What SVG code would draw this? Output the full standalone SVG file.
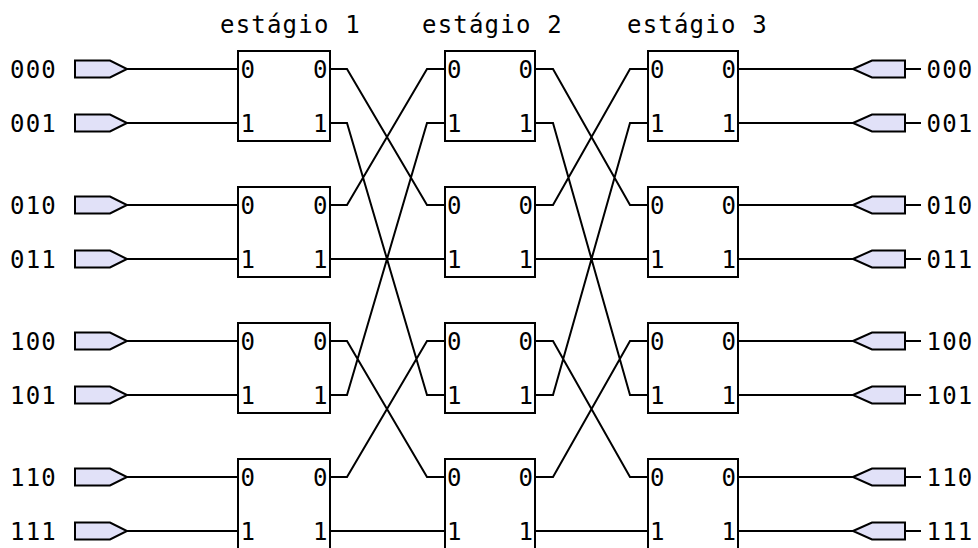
<svg xmlns="http://www.w3.org/2000/svg" width="978" height="548" viewBox="0 0 978 548">
<style>
text{font-family:"DejaVu Sans Mono","Liberation Mono",monospace;font-size:24px;fill:#000}
.ls{letter-spacing:1.2px}
.box{fill:#fff;stroke:#000;stroke-width:2}
.w{fill:none;stroke:#000;stroke-width:2;stroke-linejoin:miter}
.pin{fill:#e1e1f8;stroke:#000;stroke-width:2;stroke-linejoin:miter}
.e{text-anchor:end}
</style>
<rect width="978" height="548" fill="#fff"/>
<g id="titles">
<text class="ls" x="220" y="33">estágio 1</text>
<text class="ls" x="422" y="33">estágio 2</text>
<text class="ls" x="627" y="33">estágio 3</text>
</g>
<g id="connectors">
<path class="w" d="M127,69H238M127,123H238M127,205H238M127,259H238M127,341H238M127,395H238M127,477H238M127,531H238"/>
<path class="w" d="M330,69H347L427,205H445M330,123H347L427,395H445M330,205H347L427,69H445M330,259H445M330,341H347L427,477H445M330,395H347L427,123H445M330,477H347L427,341H445M330,531H445"/>
<path class="w" d="M535,69H553L630,205H648M535,123H553L630,395H648M535,205H553L630,69H648M535,259H648M535,341H553L630,477H648M535,395H553L630,123H648M535,477H553L630,341H648M535,531H648"/>
<path class="w" d="M738,69H853M738,123H853M738,205H853M738,259H853M738,341H853M738,395H853M738,477H853M738,531H853"/>
<path class="w" d="M905,69H921M905,123H921M905,205H921M905,259H921M905,341H921M905,395H921M905,477H921M905,531H921"/>
</g>
<g id="inputs">
<g id="in000"><text class="ls" x="10" y="78">000</text><path class="pin" d="M75,60.5H110L127,69L110,77.5H75Z"/></g>
<g id="in001"><text class="ls" x="10" y="132">001</text><path class="pin" d="M75,114.5H110L127,123L110,131.5H75Z"/></g>
<g id="in010"><text class="ls" x="10" y="214">010</text><path class="pin" d="M75,196.5H110L127,205L110,213.5H75Z"/></g>
<g id="in011"><text class="ls" x="10" y="268">011</text><path class="pin" d="M75,250.5H110L127,259L110,267.5H75Z"/></g>
<g id="in100"><text class="ls" x="10" y="350">100</text><path class="pin" d="M75,332.5H110L127,341L110,349.5H75Z"/></g>
<g id="in101"><text class="ls" x="10" y="404">101</text><path class="pin" d="M75,386.5H110L127,395L110,403.5H75Z"/></g>
<g id="in110"><text class="ls" x="10" y="486">110</text><path class="pin" d="M75,468.5H110L127,477L110,485.5H75Z"/></g>
<g id="in111"><text class="ls" x="10" y="540">111</text><path class="pin" d="M75,522.5H110L127,531L110,539.5H75Z"/></g>
</g>
<g id="outputs">
<g id="out000"><path class="pin" d="M853,69L872,60.5H905V77.5H872Z"/><text class="ls" x="926.5" y="78">000</text></g>
<g id="out001"><path class="pin" d="M853,123L872,114.5H905V131.5H872Z"/><text class="ls" x="926.5" y="132">001</text></g>
<g id="out010"><path class="pin" d="M853,205L872,196.5H905V213.5H872Z"/><text class="ls" x="926.5" y="214">010</text></g>
<g id="out011"><path class="pin" d="M853,259L872,250.5H905V267.5H872Z"/><text class="ls" x="926.5" y="268">011</text></g>
<g id="out100"><path class="pin" d="M853,341L872,332.5H905V349.5H872Z"/><text class="ls" x="926.5" y="350">100</text></g>
<g id="out101"><path class="pin" d="M853,395L872,386.5H905V403.5H872Z"/><text class="ls" x="926.5" y="404">101</text></g>
<g id="out110"><path class="pin" d="M853,477L872,468.5H905V485.5H872Z"/><text class="ls" x="926.5" y="486">110</text></g>
<g id="out111"><path class="pin" d="M853,531L872,522.5H905V539.5H872Z"/><text class="ls" x="926.5" y="540">111</text></g>
</g>
<g id="stage1">
<g id="s1b0"><rect class="box" x="238" y="51" width="92" height="90"/><text x="240.5" y="78">0</text><text x="240.5" y="132">1</text><text class="e" x="327.5" y="78">0</text><text class="e" x="327.5" y="132">1</text></g>
<g id="s1b1"><rect class="box" x="238" y="187" width="92" height="90"/><text x="240.5" y="214">0</text><text x="240.5" y="268">1</text><text class="e" x="327.5" y="214">0</text><text class="e" x="327.5" y="268">1</text></g>
<g id="s1b2"><rect class="box" x="238" y="323" width="92" height="90"/><text x="240.5" y="350">0</text><text x="240.5" y="404">1</text><text class="e" x="327.5" y="350">0</text><text class="e" x="327.5" y="404">1</text></g>
<g id="s1b3"><rect class="box" x="238" y="459" width="92" height="90"/><text x="240.5" y="486">0</text><text x="240.5" y="540">1</text><text class="e" x="327.5" y="486">0</text><text class="e" x="327.5" y="540">1</text></g>
</g>
<g id="stage2">
<g id="s2b0"><rect class="box" x="445" y="51" width="90" height="90"/><text x="447" y="78">0</text><text x="447" y="132">1</text><text class="e" x="533" y="78">0</text><text class="e" x="533" y="132">1</text></g>
<g id="s2b1"><rect class="box" x="445" y="187" width="90" height="90"/><text x="447" y="214">0</text><text x="447" y="268">1</text><text class="e" x="533" y="214">0</text><text class="e" x="533" y="268">1</text></g>
<g id="s2b2"><rect class="box" x="445" y="323" width="90" height="90"/><text x="447" y="350">0</text><text x="447" y="404">1</text><text class="e" x="533" y="350">0</text><text class="e" x="533" y="404">1</text></g>
<g id="s2b3"><rect class="box" x="445" y="459" width="90" height="90"/><text x="447" y="486">0</text><text x="447" y="540">1</text><text class="e" x="533" y="486">0</text><text class="e" x="533" y="540">1</text></g>
</g>
<g id="stage3">
<g id="s3b0"><rect class="box" x="648" y="51" width="90" height="90"/><text x="650" y="78">0</text><text x="650" y="132">1</text><text class="e" x="736" y="78">0</text><text class="e" x="736" y="132">1</text></g>
<g id="s3b1"><rect class="box" x="648" y="187" width="90" height="90"/><text x="650" y="214">0</text><text x="650" y="268">1</text><text class="e" x="736" y="214">0</text><text class="e" x="736" y="268">1</text></g>
<g id="s3b2"><rect class="box" x="648" y="323" width="90" height="90"/><text x="650" y="350">0</text><text x="650" y="404">1</text><text class="e" x="736" y="350">0</text><text class="e" x="736" y="404">1</text></g>
<g id="s3b3"><rect class="box" x="648" y="459" width="90" height="90"/><text x="650" y="486">0</text><text x="650" y="540">1</text><text class="e" x="736" y="486">0</text><text class="e" x="736" y="540">1</text></g>
</g>
</svg>
